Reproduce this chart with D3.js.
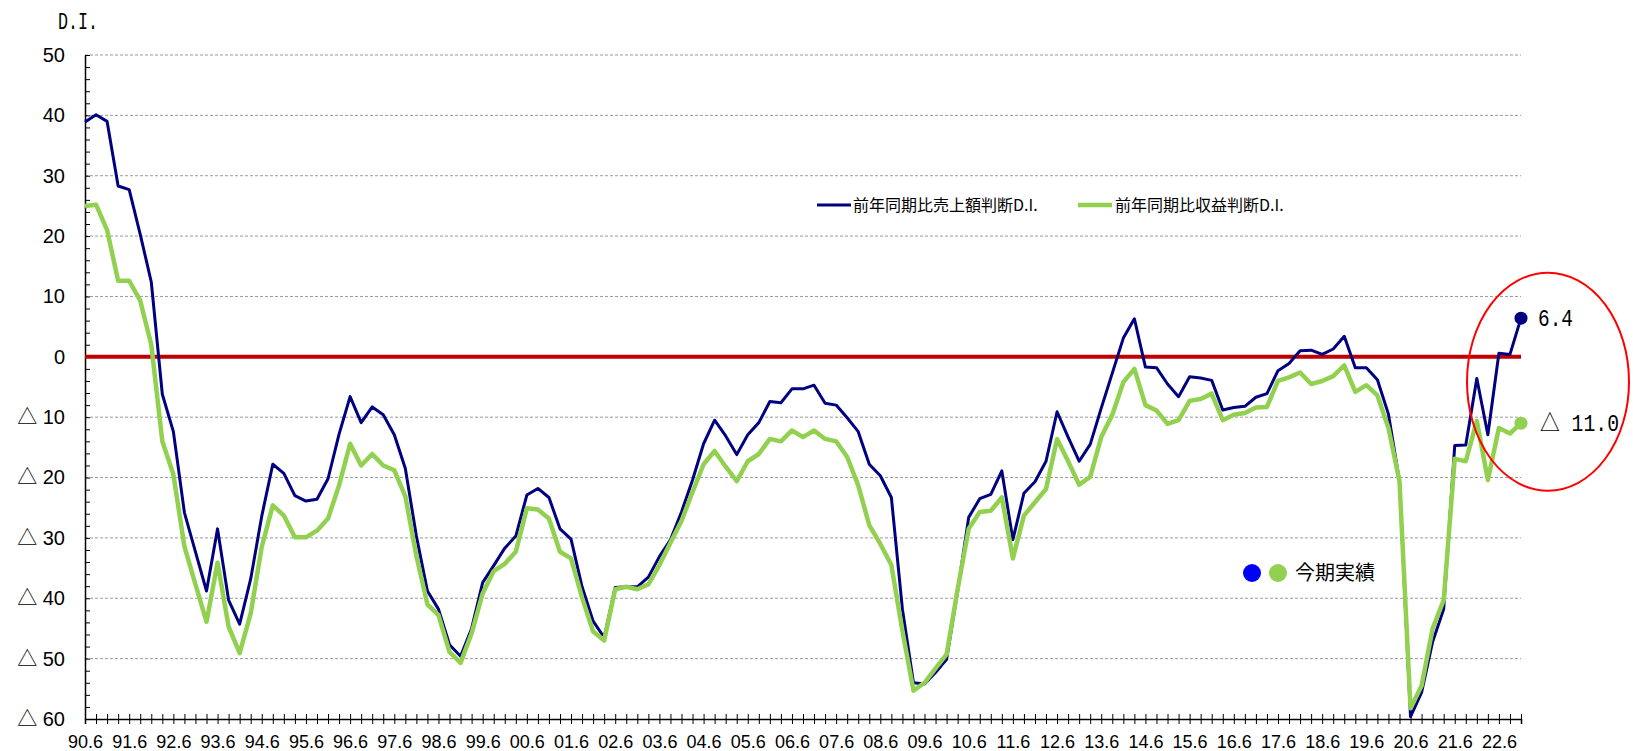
<!DOCTYPE html>
<html>
<head>
<meta charset="utf-8">
<script src="https://cdn.jsdelivr.net/npm/d3@7"></script>
<style>
  html, body { margin: 0; padding: 0; background: #fff; }
  svg { display: block; }
</style>
</head>
<body>
<svg id="chart" width="1633" height="751"></svg>
<script>
// ---------------- data ----------------
const startYear = 1990;           // first category: 90.6
const quarterMonths = [6, 9, 12, 3];
const sales = [
  38.9, 40.1, 39.0, 28.3, 27.7, 20.3, 12.4, -6.2, -12.4, -25.8,
  -32.3, -38.8, -28.5, -40.3, -44.3, -36.8, -26.4, -17.8, -19.3, -23.0,
  -23.9, -23.6, -20.2, -12.8, -6.6, -10.9, -8.3, -9.6, -12.9, -18.5,
  -29.7, -38.8, -41.8, -47.7, -49.6, -45.0, -37.4, -34.6, -31.7, -29.7,
  -22.9, -21.8, -23.3, -28.5, -30.2, -38.1, -43.8, -46.5, -38.2, -38.1,
  -38.1, -36.5, -33.1, -30.3, -25.7, -20.4, -14.4, -10.5, -13.1, -16.2,
  -12.9, -10.9, -7.4, -7.6, -5.3, -5.3, -4.7, -7.7, -8.0, -10.1,
  -12.4, -17.8, -19.7, -23.3, -41.8, -54.0, -54.2, -52.3, -50.1, -38.8,
  -26.6, -23.5, -22.8, -18.9, -30.3, -22.6, -20.7, -17.3, -9.1, -13.3,
  -17.3, -14.5, -8.5, -2.7, 3.1, 6.3, -1.7, -1.8, -4.5, -6.6,
  -3.3, -3.5, -3.9, -8.8, -8.4, -8.2, -6.7, -6.1, -2.3, -1.1,
  1.0, 1.1, 0.4, 1.3, 3.4, -1.8, -1.8, -3.8, -9.5, -20.6,
  -59.6, -55.6, -47.2, -41.8, -14.7, -14.6, -3.6, -12.9, 0.6, 0.4,
  6.4
];
const profit = [
  25.0, 25.2, 21.0, 12.6, 12.6, 9.3, 2.0, -14.0, -19.5, -31.4,
  -37.7, -43.9, -34.1, -44.7, -49.1, -42.5, -31.5, -24.6, -26.3, -29.9,
  -29.9, -28.8, -26.8, -21.3, -14.4, -18.0, -16.1, -18.0, -18.8, -23.1,
  -33.0, -41.0, -42.8, -48.9, -50.7, -45.8, -39.2, -35.5, -34.3, -32.3,
  -25.1, -25.3, -26.8, -32.3, -33.4, -39.9, -45.5, -47.0, -38.5, -38.1,
  -38.5, -37.7, -34.5, -30.8, -27.2, -22.4, -17.8, -15.6, -18.2, -20.6,
  -17.3, -16.1, -13.6, -14.0, -12.2, -13.3, -12.2, -13.6, -14.0, -16.6,
  -21.3, -27.9, -31.0, -34.5, -45.4, -55.3, -54.0, -51.6, -49.3, -38.5,
  -28.5, -25.7, -25.5, -23.3, -33.4, -26.3, -24.1, -21.9, -13.6, -17.3,
  -21.2, -19.9, -13.3, -9.6, -4.2, -2.0, -8.0, -8.9, -11.1, -10.5,
  -7.3, -7.0, -6.1, -10.5, -9.6, -9.3, -8.4, -8.3, -4.0, -3.4,
  -2.6, -4.5, -4.0, -3.2, -1.4, -5.8, -4.7, -6.4, -11.8, -20.6,
  -58.2, -54.5, -45.0, -40.3, -16.9, -17.3, -10.6, -20.4, -11.8, -12.7,
  -11.0
];
const xTickLabels = ["90.6","91.6","92.6","93.6","94.6","95.6","96.6","97.6","98.6","99.6",
  "00.6","01.6","02.6","03.6","04.6","05.6","06.6","07.6","08.6","09.6",
  "10.6","11.6","12.6","13.6","14.6","15.6","16.6","17.6","18.6","19.6",
  "20.6","21.6","22.6"];
const yTicks = [50, 40, 30, 20, 10, 0, -10, -20, -30, -40, -50, -60];
const seriesNames = ["前年同期比売上額判断D.I.", "前年同期比収益判断D.I."];
const yTitle = "D.I.";
const noteText = "今期実績";

// categories (quarter keys: 90.6, 90.9, 90.12, 91.3, ...)
const categories = sales.map((d, i) => {
  const m = quarterMonths[i % 4];
  const yr = startYear + Math.floor(i / 4) + (m === 3 ? 1 : 0);
  return String(yr % 100).padStart(2, "0") + "." + m;
});

// ---------------- chart ----------------
const svg = d3.select("#chart");
const mLeft = 85, mRight = 1521, mTop = 55, mBottom = 719;
const x = d3.scalePoint().domain(categories).range([mLeft, mRight]);
const y = d3.scaleLinear().domain([-60, 50]).range([mBottom, mTop]);

const NAVY = "#000080", GREEN = "#92D050", RED = "#C00000";
const fmt = v => v < 0 ? "△ " + Math.abs(v) : String(v);
const fmt1 = v => v < 0 ? "△ " + Math.abs(v).toFixed(1) : v.toFixed(1);

// gridlines
svg.append("g").selectAll("line")
  .data(yTicks.filter(v => v !== 0 && v !== -60))
  .join("line")
  .attr("x1", mLeft).attr("x2", mRight)
  .attr("y1", d => y(d)).attr("y2", d => y(d))
  .attr("stroke", "#9a9a9a").attr("stroke-width", 1)
  .attr("stroke-dasharray", "3,2");

// y axis: labels
const yLab = svg.append("g").attr("transform", `translate(${mLeft},0)`)
  .call(d3.axisLeft(y).tickValues(yTicks).tickSize(0).tickPadding(20).tickFormat(fmt));
yLab.select(".domain").remove();
yLab.selectAll("text")
  .attr("font-family", "'Liberation Sans', Arial, 'Noto Sans CJK JP', sans-serif")
  .attr("font-size", 20).attr("fill", "#000");

// y axis: inward minor ticks every 2
const yTk = svg.append("g").attr("transform", `translate(${mLeft},0)`)
  .call(d3.axisRight(y).tickValues(d3.range(-60, 51, 2)).tickSize(5).tickSizeOuter(0).tickFormat(""));
yTk.select(".domain").attr("stroke", "#000").attr("stroke-width", 1.5);
yTk.selectAll(".tick line").attr("stroke", "#000").attr("stroke-width", 1);

// x axis: crossing ticks
const xB = svg.append("g").attr("transform", `translate(0,${mBottom})`)
  .call(d3.axisBottom(x).tickSizeOuter(0).tickSize(5).tickFormat(""));
xB.select(".domain").attr("stroke", "#000").attr("stroke-width", 1.5);
xB.selectAll(".tick line").attr("stroke", "#000");
const xT = svg.append("g").attr("transform", `translate(0,${mBottom})`)
  .call(d3.axisTop(x).tickSizeOuter(0).tickSize(5).tickFormat(""));
xT.select(".domain").remove();
xT.selectAll(".tick line").attr("stroke", "#000");

// x labels every 4 quarters
const labelCats = categories.filter((c, i) => i % 4 === 0);
const xL = svg.append("g").attr("transform", `translate(0,${mBottom})`)
  .call(d3.axisBottom(x).tickValues(labelCats).tickSize(0).tickPadding(16)
    .tickFormat((c) => xTickLabels[categories.indexOf(c) / 4]));
xL.select(".domain").remove();
xL.selectAll("text")
  .attr("font-family", "'Liberation Sans', Arial, sans-serif")
  .attr("font-size", 18).attr("fill", "#000");

// zero line
svg.append("line")
  .attr("x1", mLeft).attr("x2", mRight)
  .attr("y1", y(0)).attr("y2", y(0))
  .attr("stroke", RED).attr("stroke-width", 4);

// lines
const line = d3.line().x((d, i) => x(categories[i])).y(d => y(d));
svg.append("path").datum(sales)
  .attr("d", line).attr("fill", "none")
  .attr("stroke", NAVY).attr("stroke-width", 3)
  .attr("stroke-linejoin", "round");
svg.append("path").datum(profit)
  .attr("d", line).attr("fill", "none")
  .attr("stroke", GREEN).attr("stroke-width", 4.5)
  .attr("stroke-linejoin", "round");

// end markers
const last = categories.length - 1;
const lx = x(categories[last]);
svg.append("circle").attr("cx", lx).attr("cy", y(sales[last])).attr("r", 6.5).attr("fill", NAVY);
svg.append("circle").attr("cx", lx).attr("cy", y(profit[last])).attr("r", 6.5).attr("fill", GREEN);

svg.append("text").attr("x", lx + 17).attr("y", y(sales[last]) + 8)
  .attr("font-family", "'Liberation Mono', monospace").attr("font-size", 23)
  .attr("textLength", 35).attr("lengthAdjust", "spacingAndGlyphs").text(fmt1(sales[last]));
svg.append("text").attr("x", lx + 19).attr("y", y(profit[last]) + 8)
  .attr("font-family", "'Liberation Mono', 'Noto Sans CJK JP', monospace").attr("font-size", 23)
  .attr("textLength", 79).attr("lengthAdjust", "spacingAndGlyphs").text(fmt1(profit[last]));

// red ellipse annotation
svg.append("ellipse")
  .attr("cx", lx + 27).attr("cy", (y(sales[last]) + y(profit[last])) / 2 + 11)
  .attr("rx", 81).attr("ry", 109)
  .attr("fill", "none").attr("stroke", "#FF0000").attr("stroke-width", 2);

// y title
svg.append("text").attr("x", 58).attr("y", 29)
  .attr("font-family", "'Liberation Mono', monospace").attr("font-size", 24)
  .attr("textLength", 40).attr("lengthAdjust", "spacingAndGlyphs").text(yTitle);

// legend
const legend = [
  {name: seriesNames[0], color: NAVY, w: 3, x0: 817, tx: 853},
  {name: seriesNames[1], color: GREEN, w: 4.5, x0: 1078, tx: 1115}
];
const lg = svg.append("g");
legend.forEach(l => {
  lg.append("line").attr("x1", l.x0).attr("x2", l.x0 + 34).attr("y1", 205).attr("y2", 205)
    .attr("stroke", l.color).attr("stroke-width", l.w);
  lg.append("text").attr("x", l.tx).attr("y", 211)
    .attr("font-family", "'Noto Sans CJK JP', sans-serif").attr("font-size", 16)
    .attr("fill", "#000").text(l.name);
});

// 今期実績 note
svg.append("circle").attr("cx", 1252).attr("cy", 573).attr("r", 9).attr("fill", "#0000FF");
svg.append("circle").attr("cx", 1278).attr("cy", 573).attr("r", 9).attr("fill", GREEN);
svg.append("text").attr("x", 1295).attr("y", 580)
  .attr("font-family", "'Noto Sans CJK JP', sans-serif").attr("font-size", 20)
  .attr("fill", "#000").text(noteText);
</script>
</body>
</html>
